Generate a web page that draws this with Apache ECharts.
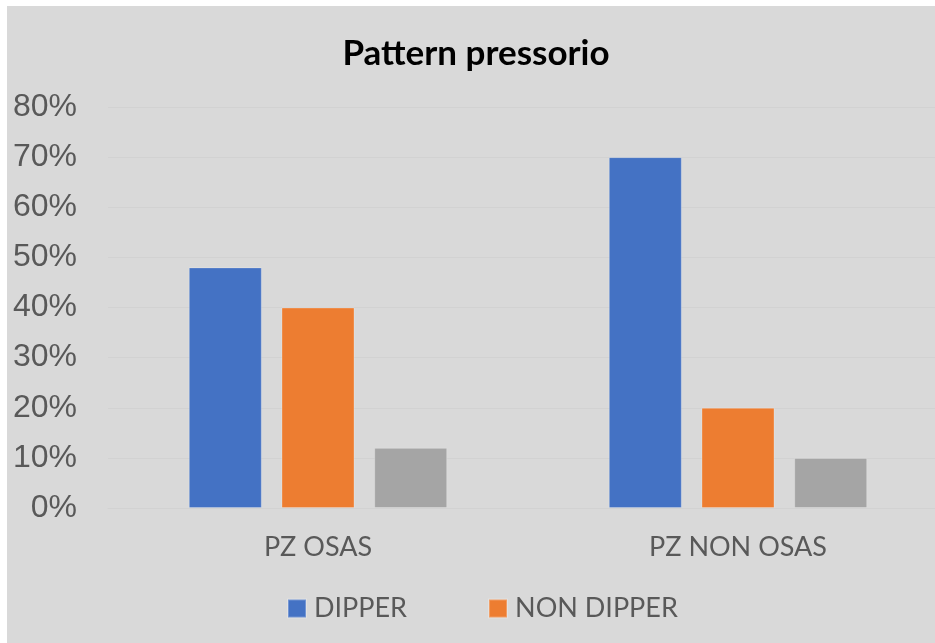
<!DOCTYPE html>
<html>
<head>
<meta charset="utf-8">
<title>Pattern pressorio</title>
<script src="https://cdn.jsdelivr.net/npm/echarts@6/dist/echarts.min.js"></script>
<style>
  html, body { margin: 0; padding: 0; background: #ffffff; overflow: hidden; width: 935px; height: 643px; }
  #panel { position: absolute; left: 7px; top: 6px; width: 928px; height: 637px; background: #d9d9d9; }
  #chart { position: absolute; left: 0; top: 0; width: 960px; height: 643px; }
</style>
</head>
<body>
<div id="panel"></div>
<div id="chart"></div>
<script>
// Patient groups on the x axis
const categories = ['PZ OSAS', 'PZ NON OSAS'];
// Share of patients per blood-pressure pattern (fractions)
const dipper = [0.48, 0.70];
const nonDipper = [0.40, 0.20];
const other = [0.12, 0.10];
// Y axis range and step
const yMax = 0.8;
const yStep = 0.1;

const chart = echarts.init(document.getElementById('chart'), null, { renderer: 'canvas' });

const barBorder = 'rgba(255,255,255,0.25)';

chart.setOption({
  backgroundColor: 'transparent',
  animation: false,
  title: {
    text: 'Pattern pressorio',
    left: 476,
    top: 36,
    padding: 0,
    textAlign: 'center',
    textStyle: { fontFamily: 'Lato', fontWeight: 'bold', fontSize: 35, color: '#000000' }
  },
  legend: {
    data: ['DIPPER', 'NON DIPPER'],
    left: 287,
    top: 595,
    padding: 0,
    itemWidth: 18,
    itemHeight: 18,
    itemGap: 81,
    icon: 'rect',
    textStyle: { fontFamily: 'Lato', fontSize: 27, color: '#595959', padding: [0, 0, 0, 3] }
  },
  grid: { left: 108, top: 107, width: 840, height: 401, containLabel: false },
  xAxis: {
    type: 'category',
    data: categories,
    axisLine: { show: true, lineStyle: { color: '#d2d2d2', width: 1 } },
    axisTick: { show: false },
    axisLabel: { fontFamily: 'Lato', fontSize: 27, color: '#595959', margin: 26 }
  },
  yAxis: {
    type: 'value',
    min: 0,
    max: yMax,
    interval: yStep,
    axisLine: { show: false },
    axisTick: { show: false },
    splitLine: { lineStyle: { color: '#d2d2d2', width: 1 } },
    axisLabel: {
      fontFamily: 'Liberation Sans',
      fontSize: 32,
      color: '#595959',
      margin: 31,
      formatter: v => Math.round(v * 100) + '%'
    }
  },
  series: [
    { name: 'DIPPER', type: 'bar', data: dipper, barWidth: 73, barGap: '27%',
      itemStyle: { color: '#4472c4', borderColor: barBorder, borderWidth: 1 } },
    { name: 'NON DIPPER', type: 'bar', data: nonDipper, barWidth: 73, barGap: '27%',
      itemStyle: { color: '#ed7d31', borderColor: barBorder, borderWidth: 1 } },
    { name: 'Serie3', type: 'bar', data: other, barWidth: 73, barGap: '27%',
      itemStyle: { color: '#a5a5a5', borderColor: barBorder, borderWidth: 1 } }
  ]
});
</script>
</body>
</html>
